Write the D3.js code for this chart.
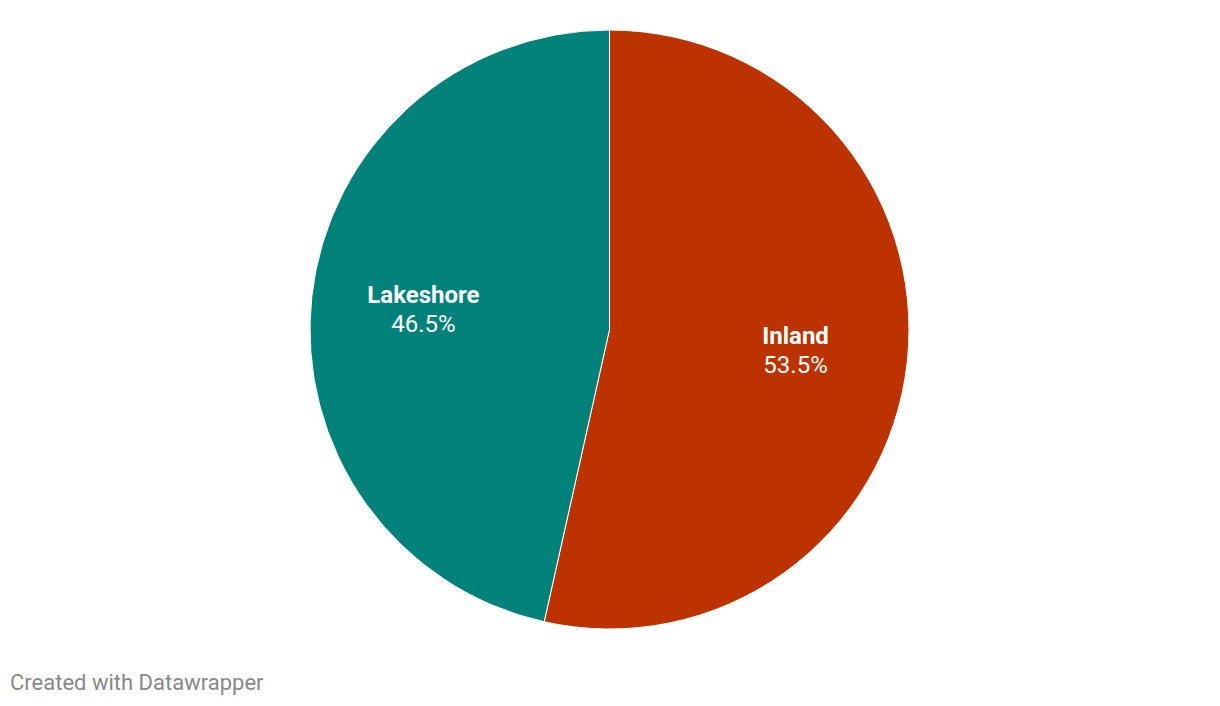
<!DOCTYPE html>
<html>
<head>
<meta charset="utf-8">
<script src="https://d3js.org/d3.v7.min.js"></script>
<style>
  * { margin: 0; padding: 0; box-sizing: border-box; }
  html, body { width: 1220px; height: 706px; background: #fff; overflow: hidden; }
  body { font-family: Roboto, 'Noto Sans', sans-serif; }
</style>
</head>
<body>
<svg id="chart" width="1220" height="706"></svg>
<script>
  // chart data
  const categories = ['Inland', 'Lakeshore'];
  const shares = [53.5, 46.5];
  const colors = ['#bc3300', '#00827a'];

  const width = 1220, height = 706;
  const cx = 609.5, cy = 329.5, radius = 299.5;

  const svg = d3.select('#chart');
  const g = svg.append('g').attr('transform', `translate(${cx}, ${cy})`);

  const data = categories.map((name, i) => ({ name, value: shares[i], color: colors[i] }));

  const pie = d3.pie().value(d => d.value).sort(null);
  const arc = d3.arc().innerRadius(0).outerRadius(radius);
  const labelArc = d3.arc().innerRadius(radius * 0.625).outerRadius(radius * 0.625);

  const arcs = pie(data);

  g.selectAll('path.slice')
    .data(arcs)
    .enter().append('path')
    .attr('class', 'slice')
    .attr('d', arc)
    .attr('fill', d => d.data.color)
    .attr('stroke', '#ffffff')
    .attr('stroke-width', 1);

  const labels = g.selectAll('g.label')
    .data(arcs)
    .enter().append('g')
    .attr('class', 'label')
    .attr('transform', d => `translate(${labelArc.centroid(d)})`);

  labels.append('text')
    .attr('text-anchor', 'middle')
    .attr('y', -6)
    .attr('fill', '#fff')
    .style('font-size', '24px')
    .style('font-weight', 700)
    .text(d => d.data.name);

  labels.append('text')
    .attr('text-anchor', 'middle')
    .attr('y', 23)
    .attr('fill', '#fff')
    .style('font-size', '24px')
    .text(d => d3.format('.1f')(d.data.value) + '%');

  svg.append('text')
    .attr('x', 10)
    .attr('y', 690)
    .attr('fill', '#888')
    .style('font-size', '22px')
    .text('Created with Datawrapper');
</script>
</body>
</html>
